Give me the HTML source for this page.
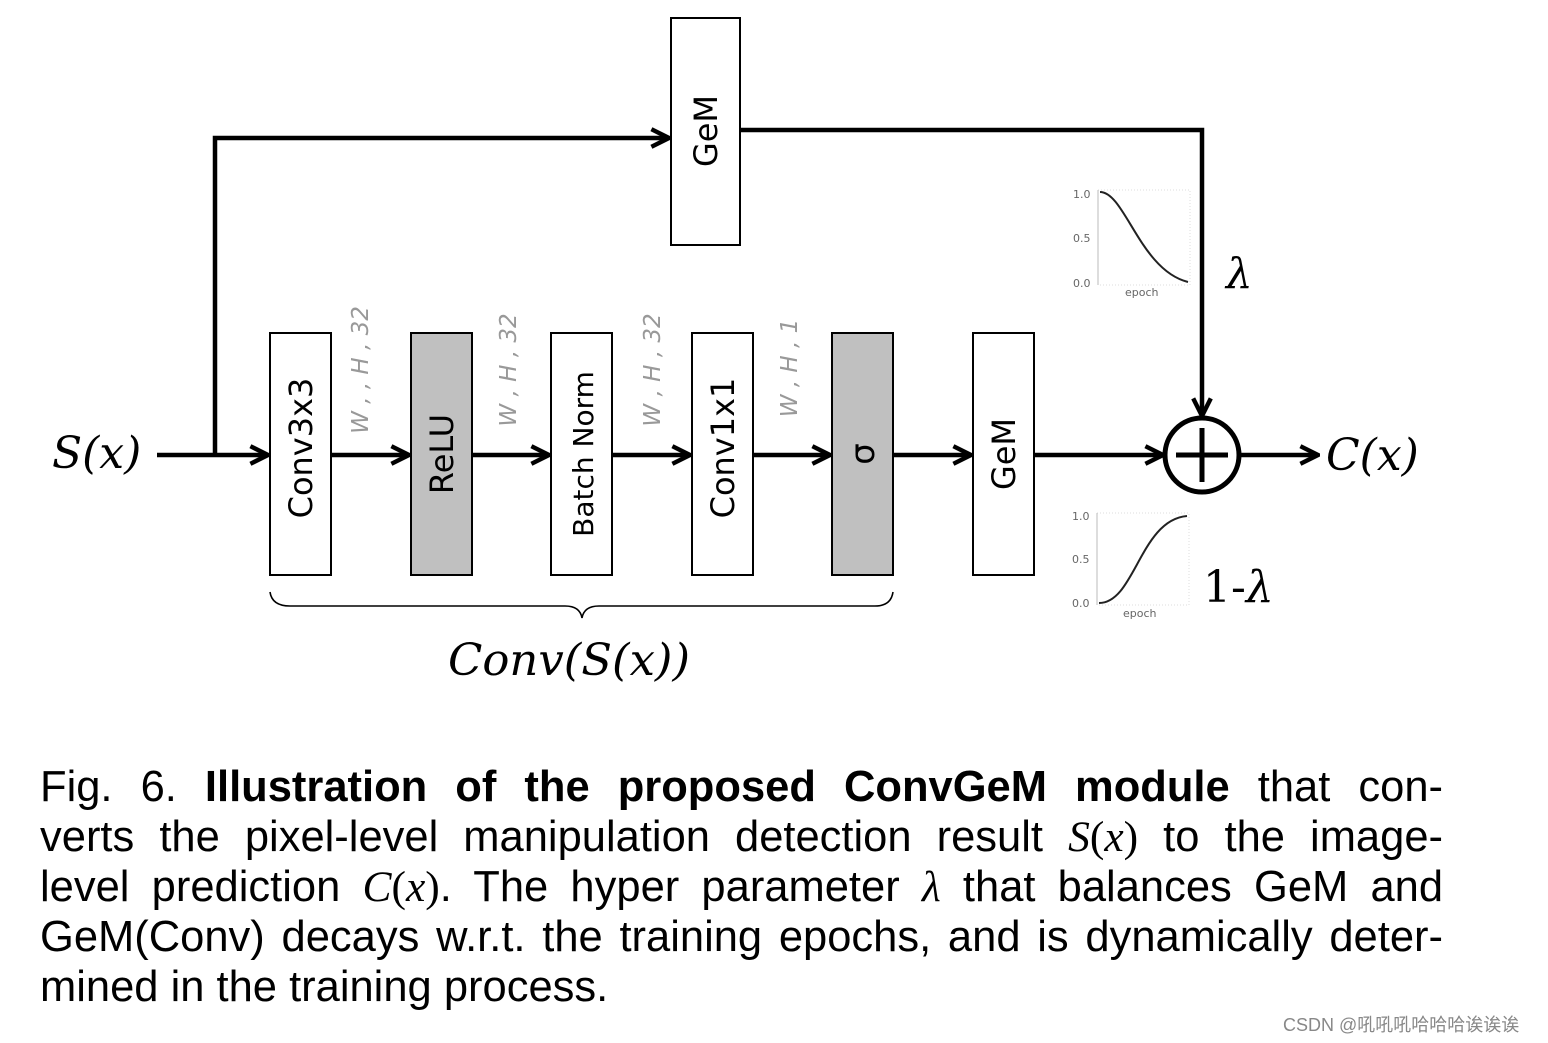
<!DOCTYPE html>
<html><head><meta charset="utf-8"><style>
html,body{margin:0;padding:0;background:#fff}
svg{display:block;position:absolute;left:0;top:0}
.cap{position:absolute;left:40px;top:762px;width:1403px;font-family:"Liberation Sans",sans-serif;font-size:43.5px;line-height:50px;color:#000}
.cap div{text-align:justify;text-align-last:justify;white-space:nowrap;height:50px}
.cap div.last{text-align-last:left}
.m{font-family:"Liberation Serif",serif;font-style:italic}
.r{font-family:"Liberation Serif",serif}
</style></head>
<body>
<svg width="1548" height="1043" viewBox="0 0 1548 1043" xmlns="http://www.w3.org/2000/svg">
<defs>
<marker id="ah" viewBox="0 0 20 20" refX="18" refY="10" markerWidth="22" markerHeight="22" markerUnits="userSpaceOnUse" orient="auto">
<path d="M2 2 L18 10 L2 18" fill="none" stroke="#000" stroke-width="4"/>
</marker>
</defs>
<g stroke="#000" stroke-width="4.5" fill="none">
<line x1="157" y1="455" x2="268" y2="455" marker-end="url(#ah)"/>
<polyline points="215,455 215,138 669,138" marker-end="url(#ah)"/>
<polyline points="740,130 1202,130 1202,416" marker-end="url(#ah)"/>
<line x1="331" y1="455" x2="409" y2="455" marker-end="url(#ah)"/>
<line x1="472" y1="455" x2="549" y2="455" marker-end="url(#ah)"/>
<line x1="612" y1="455" x2="690" y2="455" marker-end="url(#ah)"/>
<line x1="753" y1="455" x2="830" y2="455" marker-end="url(#ah)"/>
<line x1="893" y1="455" x2="971" y2="455" marker-end="url(#ah)"/>
<line x1="1034" y1="455" x2="1163" y2="455" marker-end="url(#ah)"/>
<line x1="1240" y1="455" x2="1318" y2="455" marker-end="url(#ah)"/>
<circle cx="1202" cy="455" r="37" stroke-width="5"/>
<line x1="1176" y1="455" x2="1228" y2="455" stroke-width="5"/>
<line x1="1202" y1="428" x2="1202" y2="482" stroke-width="5"/>
</g>
<g stroke="#000" stroke-width="2">
<rect x="671" y="18" width="69" height="227" fill="#fff"/>
<rect x="270" y="333" width="61" height="242" fill="#fff"/>
<rect x="411" y="333" width="61" height="242" fill="#c0c0c0"/>
<rect x="551" y="333" width="61" height="242" fill="#fff"/>
<rect x="692" y="333" width="61" height="242" fill="#fff"/>
<rect x="832" y="333" width="61" height="242" fill="#c0c0c0"/>
<rect x="973" y="333" width="61" height="242" fill="#fff"/>
</g>
<g font-family="'DejaVu Sans','Liberation Sans',sans-serif" font-size="32" fill="#000" text-anchor="middle">
<text transform="translate(717,131) rotate(-90)">GeM</text>
<text transform="translate(312,448) rotate(-90)">Conv3x3</text>
<text transform="translate(453,454) rotate(-90)">ReLU</text>
<text transform="translate(593,454) rotate(-90)" font-size="28">Batch Norm</text>
<text transform="translate(734,448) rotate(-90)">Conv1x1</text>
<text transform="translate(874,454) rotate(-90)" font-size="34">σ</text>
<text transform="translate(1015,454) rotate(-90)">GeM</text>
</g>
<g font-family="'DejaVu Sans',sans-serif" font-style="italic" font-size="23" fill="#999" text-anchor="middle">
<text transform="translate(368,370) rotate(-90)">W , , H , 32</text>
<text transform="translate(516,370) rotate(-90)">W , H , 32</text>
<text transform="translate(660,370) rotate(-90)">W , H , 32</text>
<text transform="translate(797,368) rotate(-90)">W , H , 1</text>
</g>
<g font-family="'DejaVu Serif','Liberation Serif',serif" font-style="italic" font-size="44" fill="#000">
<text x="52" y="468">S(x)</text>
<text x="1326" y="470">C(x)</text>
<text x="448" y="675" textLength="242" lengthAdjust="spacingAndGlyphs">Conv(S(x))</text>
<text x="1226" y="288" font-size="42">λ</text>
</g>
<text x="1203" y="602" font-family="'DejaVu Serif','Liberation Serif',serif" font-size="44" fill="#000">1-<tspan font-style="italic">λ</tspan></text>
<path d="M270 592 Q272 606 290 606 L565 606 Q580 606 582 618 Q584 606 599 606 L875 606 Q891 606 893 592" stroke="#000" stroke-width="1.6" fill="none"/>
<g font-family="'DejaVu Sans',sans-serif" font-size="11" fill="#666">
<rect x="1098" y="190" width="92" height="95" fill="none" stroke="#ddd" stroke-dasharray="1,2"/>
<line x1="1098" y1="190" x2="1098" y2="285" stroke="#bbb"/>
<text x="1073" y="198">1.0</text><text x="1073" y="242">0.5</text><text x="1073" y="287">0.0</text>
<text x="1125" y="296">epoch</text>
<path d="M1100 192 C1125 192 1140 270 1188 282" stroke="#222" stroke-width="2" fill="none"/>
<rect x="1097" y="513" width="92" height="92" fill="none" stroke="#ddd" stroke-dasharray="1,2"/>
<line x1="1097" y1="513" x2="1097" y2="605" stroke="#bbb"/>
<text x="1072" y="520">1.0</text><text x="1072" y="563">0.5</text><text x="1072" y="607">0.0</text>
<text x="1123" y="617">epoch</text>
<path d="M1099 603 C1135 603 1140 520 1187 516" stroke="#222" stroke-width="2" fill="none"/>
</g>
<text x="1283" y="1031" font-family="'Liberation Sans','Noto Sans CJK SC',sans-serif" font-size="18" fill="#888">CSDN @吼吼吼哈哈哈诶诶诶</text>
</svg>
<div class="cap">
<div>Fig. 6. <b>Illustration of the proposed ConvGeM module</b> that con-</div>
<div>verts the pixel-level manipulation detection result <span class="m">S</span><span class="r">(</span><span class="m">x</span><span class="r">)</span> to the image-</div>
<div>level prediction <span class="m">C</span><span class="r">(</span><span class="m">x</span><span class="r">)</span>. The hyper parameter <span class="m">λ</span> that balances GeM and</div>
<div>GeM(Conv) decays w.r.t. the training epochs, and is dynamically deter-</div>
<div class="last">mined in the training process.</div>
</div>
</body></html>
